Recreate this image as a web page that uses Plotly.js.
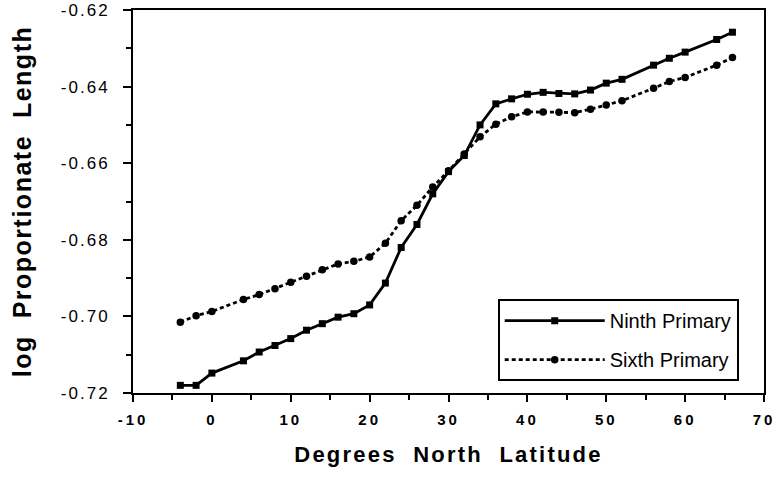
<!DOCTYPE html>
<html>
<head>
<meta charset="utf-8">
<script src="https://cdn.plot.ly/plotly-3.0.1.min.js"></script>
<style>
body{margin:0;background:#fff;}
#chart{width:778px;height:479px;}
.xtick text{letter-spacing:3px;}
.ytick text{letter-spacing:2px;}
.g-xtitle text{letter-spacing:2.2px;}
.g-ytitle text{letter-spacing:1.5px;}
</style>
</head>
<body>
<div id="chart"></div>
<script>
const latitude = [-4,-2,0,4,6,8,10,12,14,16,18,20,22,24,26,28,30,32,34,36,38,40,42,44,46,48,50,52,56,58,60,64,66];
const ninthPrimary = [-0.7180,-0.7180,-0.7148,-0.7116,-0.7093,-0.7076,-0.7058,-0.7036,-0.7019,-0.7002,-0.6993,-0.6970,-0.6913,-0.6820,-0.6760,-0.6680,-0.6622,-0.6580,-0.6500,-0.6445,-0.6432,-0.6420,-0.6415,-0.6418,-0.6419,-0.6409,-0.6391,-0.6381,-0.6344,-0.6326,-0.6310,-0.6277,-0.6258];
const sixthPrimary = [-0.7015,-0.6998,-0.6987,-0.6956,-0.6943,-0.6928,-0.6911,-0.6895,-0.6878,-0.6863,-0.6856,-0.6845,-0.6809,-0.6750,-0.6710,-0.6662,-0.6620,-0.6576,-0.6531,-0.6498,-0.6479,-0.6466,-0.6466,-0.6467,-0.6468,-0.6459,-0.6448,-0.6437,-0.6404,-0.6387,-0.6376,-0.6344,-0.6324];
const xTickVals = [-10,0,10,20,30,40,50,60,70];
const xTickText = ['-10','0','10','20','30','40','50','60','70'];
const yTickVals = [-0.72,-0.70,-0.68,-0.66,-0.64,-0.62];
const yTickText = ['-0.72','-0.70','-0.68','-0.66','-0.64','-0.62'];

const traces = [
  {x: latitude, y: ninthPrimary, name: 'Ninth Primary', mode: 'lines+markers', legendgroup: 'a',
   line: {color: '#000', width: 2.8}, marker: {symbol: 'square', size: 7, color: '#000'}},
  {x: latitude, y: sixthPrimary, name: 'Sixth Primary', mode: 'lines+markers', legendgroup: 'b',
   line: {color: '#000', width: 2.8, dash: '4px,3px'}, marker: {symbol: 'circle', size: 7.5, color: '#000'}}
];

const layout = {
  width: 778, height: 479,
  margin: {l: 133, r: 14, t: 10, b: 86},
  paper_bgcolor: '#fff', plot_bgcolor: '#fff',
  showlegend: true,
  legend: {x: 0.578, y: 0.245, xanchor: 'left', yanchor: 'top',
    bordercolor: '#000', borderwidth: 2, bgcolor: '#fff',
    font: {family: 'Liberation Sans, Arial', size: 20, color: '#000'},
    itemwidth: 100, tracegroupgap: 10},
  xaxis: {range: [-10, 70], tickmode: 'array', tickvals: xTickVals, ticktext: xTickText,
    showgrid: false, zeroline: false, showline: true, mirror: true, linecolor: '#000', linewidth: 2,
    ticks: 'outside', ticklen: 7, tickwidth: 2, tickcolor: '#000',
    minor: {dtick: 5, tick0: -5, ticks: 'outside', ticklen: 5, tickwidth: 2, tickcolor: '#000'},
    tickfont: {family: 'Liberation Sans, Arial', size: 15, weight: 'bold', color: '#000'},
    ticklabelstandoff: 5,
    title: {text: 'Degrees  North  Latitude', standoff: 20,
      font: {family: 'Liberation Sans, Arial', size: 22, weight: 'bold', color: '#000'}}},
  yaxis: {range: [-0.72, -0.62], tickmode: 'array', tickvals: yTickVals, ticktext: yTickText,
    showgrid: false, zeroline: false, showline: true, mirror: true, linecolor: '#000', linewidth: 2,
    ticks: 'outside', ticklen: 8, tickwidth: 2, tickcolor: '#000',
    minor: {dtick: 0.01, tick0: -0.71, ticks: 'outside', ticklen: 5, tickwidth: 2, tickcolor: '#000'},
    tickfont: {family: 'Liberation Sans, Arial', size: 17, color: '#000'},
    ticklabelstandoff: 10,
    title: {text: 'log  Proportionate  Length', standoff: 22,
      font: {family: 'Liberation Sans, Arial', size: 25, weight: 'bold', color: '#000'}}}
};

Plotly.newPlot('chart', traces, layout, {displayModeBar: false, staticPlot: true});
</script>
</body>
</html>
